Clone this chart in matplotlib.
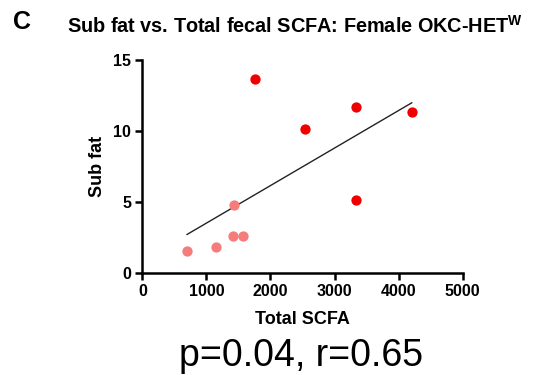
import numpy as np
import matplotlib
matplotlib.use("Agg")
import matplotlib.pyplot as plt

plt.rcParams['font.family'] = ['Liberation Sans', 'DejaVu Sans']
plt.rcParams['mathtext.fontset'] = 'custom'
plt.rcParams['mathtext.bf'] = 'Liberation Sans:bold'
plt.rcParams['mathtext.rm'] = 'Liberation Sans'

# data
scfa_high = [1759, 2535, 3331, 4205, 3331]
fat_high = [13.66, 10.12, 11.65, 11.32, 5.10]
scfa_low = [698, 1156, 1411, 1567, 1427]
fat_low = [1.53, 1.83, 2.58, 2.58, 4.74]
x_ticks = [0, 1000, 2000, 3000, 4000, 5000]
y_ticks = [0, 5, 10, 15]

fig = plt.figure(figsize=(5.42, 3.75), dpi=100)
ax = fig.add_axes([0.2626, 0.2728, 0.5911, 0.568])

ax.scatter(scfa_low, fat_low, s=55, color='#f67c7c', zorder=3, linewidths=0)
ax.scatter(scfa_high, fat_high, s=55, color='#f00000', zorder=3, linewidths=0)

# linear fit over all points
all_x = np.array(scfa_high + scfa_low)
all_y = np.array(fat_high + fat_low)
slope, icpt = np.polyfit(all_x, all_y, 1)
xs = np.array([all_x.min(), all_x.max()])
ax.plot(xs, slope * xs + icpt, color='#222222', lw=1.0, zorder=2)

ax.set_xlim(0, 5000)
ax.set_ylim(0, 15)
ax.set_xticks(x_ticks)
ax.set_yticks(y_ticks)
for s in ['top', 'right']:
    ax.spines[s].set_visible(False)
for s in ['left', 'bottom']:
    ax.spines[s].set_linewidth(1.8)
ax.tick_params(width=1.8, length=5, labelsize=11.5, pad=3)
for lbl in ax.get_xticklabels() + ax.get_yticklabels():
    lbl.set_fontweight('bold')

ax.set_xlabel('Total SCFA', fontsize=13, fontweight='bold', labelpad=9)
ax.set_ylabel('Sub fat', fontsize=13, fontweight='bold', labelpad=5)

fig.text(0.024, 0.922, 'C', fontsize=18, fontweight='bold')
fig.text(0.124, 0.913, r'Sub fat vs. Total fecal SCFA: Female OKC-HET$^{\mathbf{W}}$',
         fontsize=14.3, fontweight='bold')
fig.text(0.556, 0.05, 'p=0.04, r=0.65', fontsize=27, ha='center', va='center')

fig.savefig('out.png', dpi=100)
